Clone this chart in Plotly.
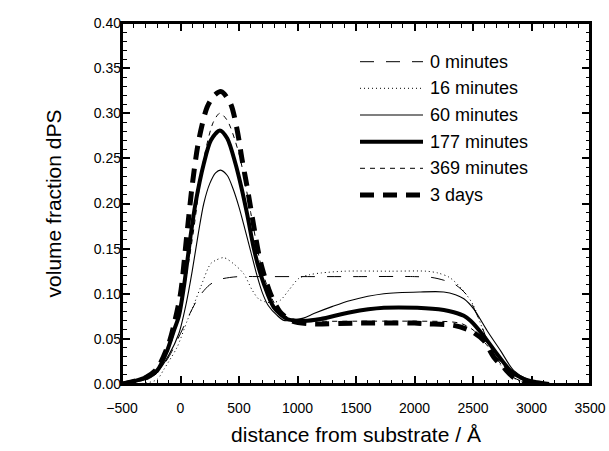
import plotly.graph_objects as go

# ---------------- data ----------------
x0 = [-500, -400, -300, -200, -100, 0, 80, 160, 250, 340, 420, 500, 700, 1000, 1500,
      2000, 2150, 2250, 2350, 2450, 2550, 2650, 2750, 2850, 2950, 3100]
y0 = [0, 0.001, 0.004, 0.012, 0.03, 0.056, 0.078, 0.097, 0.110, 0.116, 0.118, 0.119, 0.119,
      0.119, 0.119, 0.119, 0.118, 0.115, 0.110, 0.098, 0.072, 0.040, 0.020, 0.007, 0.002, 0]

x16 = [-500, -300, -200, -143, -100, -28, 57, 120, 171, 256, 300, 370, 456, 541, 613, 670,
       741, 800, 855, 926, 1011, 1100, 1200, 1400, 1800, 2100, 2200, 2300, 2400, 2500, 2600,
       2700, 2800, 2900, 3000, 3100]
y16 = [0, 0.001, 0.005, 0.016, 0.025, 0.041, 0.070, 0.090, 0.107, 0.133, 0.137, 0.140, 0.133,
       0.122, 0.104, 0.094, 0.0905, 0.0905, 0.093, 0.104, 0.117, 0.121, 0.123, 0.125, 0.125,
       0.125, 0.123, 0.118, 0.106, 0.088, 0.055, 0.028, 0.011, 0.003, 0.001, 0]

x60 = [-500, -400, -300, -200, -100, -14, 50, 100, 150, 199, 250, 300, 342, 400, 450, 500,
       550, 600, 650, 700, 750, 826, 883, 950, 1050, 1140, 1300, 1453, 1738, 2050, 2250, 2350,
       2422, 2507, 2621, 2735, 2849, 2963, 3134]
y60 = [0, 0.002, 0.005, 0.013, 0.032, 0.056, 0.09, 0.125, 0.165, 0.2, 0.222, 0.234, 0.237,
       0.231, 0.216, 0.196, 0.172, 0.147, 0.122, 0.101, 0.087, 0.076, 0.0705, 0.0705, 0.073,
       0.078, 0.086, 0.0926, 0.100, 0.102, 0.102, 0.099, 0.0944, 0.083, 0.059, 0.037, 0.0148,
       0.0055, 0.001]

x177 = [-500, -400, -300, -199, -114, -57, -14, 28, 57, 85, 128, 199, 260, 336, 400, 470,
        520, 570, 627, 670, 712, 797, 911, 1054, 1197, 1453, 1738, 2023, 2251, 2336, 2422,
        2479, 2593, 2707, 2821, 2935, 3048, 3150]
y177 = [0, 0.003, 0.007, 0.015, 0.037, 0.059, 0.075, 0.107, 0.135, 0.163, 0.2, 0.244, 0.270,
        0.281, 0.272, 0.244, 0.218, 0.188, 0.150, 0.128, 0.111, 0.085, 0.072, 0.070, 0.072,
        0.0796, 0.0844, 0.0844, 0.082, 0.0795, 0.0755, 0.070, 0.053, 0.033, 0.0148, 0.0055,
        0.002, 0]

x369 = [-500, -400, -300, -200, -100, 0, 100, 200, 280, 336, 400, 500, 600, 700, 800, 900,
        1000, 1200, 1500, 2000, 2300, 2400, 2500, 2600, 2700, 2800, 2900, 3000, 3100]
y369 = [0, 0.003, 0.006, 0.015, 0.042, 0.085, 0.16, 0.25, 0.29, 0.30, 0.292, 0.255, 0.19,
        0.125, 0.09, 0.075, 0.071, 0.0696, 0.0696, 0.0696, 0.069, 0.067, 0.06, 0.046, 0.03,
        0.015, 0.006, 0.002, 0]

x3d = [-500, -400, -300, -200, -100, -57, 0, 50, 100, 156, 228, 290, 348, 427, 485, 527,
       570, 613, 684, 769, 850, 950, 1100, 1500, 2000, 2108, 2336, 2479, 2593, 2678, 2764,
       2850, 2950, 3050]
y3d = [0, 0.003, 0.007, 0.017, 0.045, 0.065, 0.1, 0.16, 0.22, 0.27, 0.307, 0.32, 0.324,
       0.311, 0.281, 0.248, 0.218, 0.185, 0.135, 0.1, 0.08, 0.07, 0.0667, 0.0675, 0.0675,
       0.0667, 0.065, 0.059, 0.048, 0.0296, 0.018, 0.007, 0.002, 0]

series_names = ["0 minutes", "16 minutes", "60 minutes", "177 minutes", "369 minutes", "3 days"]
series_x = [x0, x16, x60, x177, x369, x3d]
series_y = [y0, y16, y60, y177, y369, y3d]

# styles
widths = [1.0, 1.0, 1.1, 4.0, 1.0, 5.0]
dashes = ["14px,12px", "1px,3px", "solid", "solid", "5px,5px", "14px,9px"]
draw_order = [0, 1, 2, 4, 3, 5]

X_RANGE = [-500, 3500]
Y_RANGE = [0, 0.40]

FONT = "Liberation Sans, Arial, Helvetica, sans-serif"

fig = go.Figure()
for i in draw_order:
    on_label_axes = (i == 5)   # last-drawn curve sits on the (identical) label axes
    fig.add_trace(go.Scatter(
        x=series_x[i], y=series_y[i], mode="lines", name=series_names[i],
        xaxis="x2" if on_label_axes else "x", yaxis="y2" if on_label_axes else "y",
        line=dict(color="black", width=widths[i], dash=dashes[i], shape="spline", smoothing=0.8),
        showlegend=False, hoverinfo="skip"))

# custom legend (line samples + labels) in paper coordinates
L, R, T, B = 122, 590, 23, 384
def px_to_paper_x(px):
    return (px - L) / (R - L)
def px_to_paper_y(py):
    return (B - py) / (B - T)

row_y = [61.7, 88.3, 115.0, 141.7, 168.3, 195.0]
for i, name in enumerate(series_names):
    yy = px_to_paper_y(row_y[i])
    fig.add_shape(type="line", xref="paper", yref="paper",
                  x0=px_to_paper_x(360), x1=px_to_paper_x(423), y0=yy, y1=yy,
                  line=dict(color="black", width=widths[i], dash=dashes[i]))
    fig.add_annotation(xref="paper", yref="paper", x=px_to_paper_x(428), y=yy,
                       text=name, showarrow=False, xanchor="left", yanchor="middle",
                       font=dict(family=FONT, size=18, color="black"))

# plot frame
fig.add_shape(type="rect", xref="paper", yref="paper", x0=0, x1=1, y0=0, y1=1,
              line=dict(color="black", width=2), fillcolor="rgba(0,0,0,0)")

frame_axis = dict(
    showline=True, linewidth=2, linecolor="black", mirror="ticks",
    ticks="inside", ticklen=8, tickwidth=1.5, tickcolor="black",
    showgrid=False, zeroline=False, showticklabels=False, automargin=False,
)
label_axis = dict(
    showline=False, showgrid=False, zeroline=False, automargin=False,
    tickfont=dict(family=FONT, size=14, color="black"),
)

fig.update_layout(
    xaxis=dict(range=X_RANGE, tick0=-500, dtick=500,
               minor=dict(dtick=100, ticks="inside", ticklen=4.5, tickwidth=1.3,
                          tickcolor="black", showgrid=False),
               **frame_axis),
    yaxis=dict(range=Y_RANGE, tick0=0, dtick=0.05,
               minor=dict(dtick=0.01, ticks="inside", ticklen=4.5, tickwidth=1.3,
                          tickcolor="black", showgrid=False),
               **frame_axis),
    xaxis2=dict(range=X_RANGE, tick0=-500, dtick=500, overlaying="x", anchor="y2", side="bottom",
                ticks="outside", ticklen=11, tickcolor="rgba(0,0,0,0)",
                title=dict(text="distance from substrate / Å",
                           font=dict(family=FONT, size=21, color="black"), standoff=12),
                **label_axis),
    yaxis2=dict(range=Y_RANGE, tick0=0, dtick=0.05, tickformat=".2f", overlaying="y",
                anchor="x2", side="left", ticks="",
                title=dict(text="volume fraction dPS",
                           font=dict(family=FONT, size=21, color="black"), standoff=26),
                **label_axis),
    width=609, height=451,
    margin=dict(l=L, r=609 - R, t=T, b=451 - B),
    paper_bgcolor="white", plot_bgcolor="white",
    showlegend=False,
)

fig.write_html("out.html")
